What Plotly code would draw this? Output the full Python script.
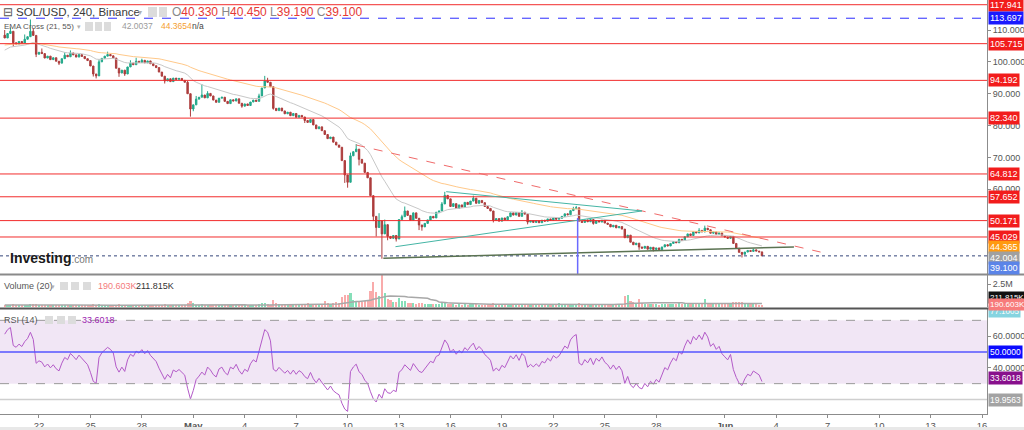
import pandas as pd
import plotly.graph_objects as go

# ---------------- data ----------------
START = "2022-04-20 00:00"          # first 4h candle
OPEN0 = 108.4
CLOSES = [
    107.5, 108.9, 109.6, 106.0, 105.6, 106.4, 105.9, 107.1, 107.9, 109.6,
    108.3, 102.4, 103.0, 102.6, 101.2, 101.8, 100.7, 101.3, 100.2, 99.6,
    101.0, 102.1, 101.6, 102.8, 102.2, 101.5, 102.3, 101.7, 101.0, 100.4,
    98.7, 96.2, 95.6, 100.0, 101.1, 101.8, 102.3, 101.9, 101.2, 98.0,
    96.5, 97.4, 96.2, 98.4, 99.6, 99.1, 100.2, 99.8, 100.5, 99.7,
    100.3, 99.4, 98.8, 98.2, 96.8, 95.5, 94.0, 94.7, 93.8, 94.9,
    94.5, 94.8, 94.2, 93.6, 90.0, 85.2, 86.5, 88.3, 88.9, 89.6,
    88.7, 90.1, 89.3, 88.0, 87.3, 88.6, 88.9, 87.6, 86.9, 88.1,
    87.7, 88.4, 87.0, 86.1, 86.8, 86.3, 87.4, 88.0, 87.6, 89.3,
    91.8, 94.0, 93.6, 92.2, 85.4, 84.7, 85.5, 84.6, 83.7, 84.2,
    83.1, 83.8, 82.6, 83.2, 82.7, 81.6, 81.0, 81.9, 80.2, 79.0,
    79.6, 78.4, 77.2, 75.9, 76.4, 74.8, 73.9, 73.2, 69.0, 64.5,
    62.2, 70.5, 71.8, 72.6, 69.4, 68.2, 65.3, 63.6, 58.0, 51.5,
    48.0, 50.2, 46.0, 48.9, 45.2, 44.6, 45.5, 44.4, 50.5, 51.4,
    53.2, 51.8, 50.3, 52.6, 50.9, 48.8, 48.2, 49.3, 50.4, 51.5,
    51.0, 52.8, 53.2, 55.4, 58.1, 57.0, 54.6, 55.5, 54.0, 55.1,
    54.4, 55.9, 55.2, 56.3, 57.2, 55.6, 56.5, 55.8, 54.6, 54.0,
    53.2, 50.2, 50.8, 50.0, 51.0, 50.4, 51.4, 52.6, 51.9, 52.7,
    51.5, 52.8, 52.2, 49.7, 50.2, 49.6, 50.1, 49.5, 50.3, 50.0,
    50.7, 50.2, 51.0, 50.6, 50.9, 51.5, 52.3, 52.0, 53.3, 53.9,
    54.2, 50.0, 49.6, 50.4, 49.8, 50.5, 49.3, 50.2, 49.7, 50.3,
    49.4, 49.0, 48.2, 48.7, 47.9, 48.3, 47.5, 44.8, 45.6, 43.4,
    42.6, 43.1, 41.9, 41.5, 42.1, 41.2, 41.8, 41.1, 41.6, 41.0,
    41.9, 42.6, 42.2, 43.0, 43.6, 43.2, 44.3, 44.0, 45.1, 46.0,
    45.5, 46.7, 46.3, 47.1, 46.6, 47.8, 47.3, 46.2, 46.6, 45.9,
    46.3, 45.4, 45.0, 44.6, 45.2, 43.0, 41.5, 40.2, 39.6, 40.3,
    40.8, 40.5, 41.0, 40.6, 40.33, 39.1,
]
HIGH_WICKS = {0: 110.0, 2: 110.8, 7: 108.6, 9: 113.3, 10: 110.5, 13: 104.2, 21: 103.0,
              23: 103.6, 33: 100.8, 36: 103.2, 44: 100.5, 46: 101.3, 48: 101.0, 64: 94.0,
              67: 89.3, 69: 93.0, 71: 90.8, 89: 90.0, 91: 95.6, 92: 95.0, 121: 71.5,
              123: 74.2, 131: 52.5, 133: 50.5, 139: 52.0, 140: 54.6, 153: 56.0, 154: 59.2,
              164: 58.0, 181: 53.5, 199: 54.5, 200: 54.8, 243: 47.8, 245: 48.6, 262: 41.4,
              265: 40.45}
LOW_WICKS = {3: 104.8, 11: 101.5, 19: 99.0, 31: 95.4, 32: 94.8, 40: 95.3, 42: 95.6,
             56: 93.2, 65: 82.8, 66: 84.5, 83: 85.6, 94: 85.0, 105: 80.8, 119: 62.0,
             120: 60.5, 124: 67.5, 129: 50.0, 130: 45.2, 132: 38.2, 134: 44.0, 137: 43.6,
             145: 47.2, 146: 47.0, 171: 49.6, 183: 49.0, 206: 48.9, 222: 41.0, 227: 40.5,
             258: 38.6}
VOLUMES_K = [
    180, 210, 160, 240, 150, 120, 140, 130, 170, 260,
    230, 330, 200, 150, 170, 140, 120, 110, 150, 160,
    130, 120, 110, 140, 100, 90, 120, 110, 130, 140,
    170, 240, 210, 250, 150, 130, 140, 110, 120, 220,
    250, 160, 190, 180, 140, 110, 120, 100, 130, 110,
    100, 120, 130, 140, 180, 210, 230, 160, 170, 140,
    120, 100, 110, 150, 340, 650, 380, 220, 200, 260,
    180, 170, 150, 160, 140, 130, 120, 140, 130, 110,
    100, 120, 110, 140, 130, 120, 150, 160, 170, 260,
    430, 380, 250, 210, 680, 360, 240, 200, 220, 190,
    170, 160, 180, 150, 170, 230, 350, 200, 280, 300,
    220, 330, 600, 380, 280, 420, 500, 420, 1100, 1300,
    1250, 1500, 700, 560, 480, 520, 600, 700, 1700, 2800,
    1600, 1200, 3600, 1500, 900, 700, 550, 500, 1000, 650,
    600, 420, 380, 350, 330, 420, 380, 300, 260, 280,
    250, 300, 280, 380, 450, 300, 330, 240, 220, 250,
    200, 230, 190, 250, 280, 240, 200, 180, 210, 230,
    240, 380, 250, 200, 180, 170, 190, 220, 180, 200,
    170, 190, 160, 300, 180, 150, 140, 160, 130, 150,
    140, 130, 160, 150, 370, 200, 220, 190, 260, 300,
    280, 370, 260, 220, 200, 190, 230, 300, 180, 170,
    200, 190, 240, 220, 180, 210, 250, 1130, 1350, 650,
    480, 350, 900, 420, 300, 280, 260, 300, 250, 220,
    240, 260, 230, 280, 250, 300, 550, 320, 350, 400,
    300, 340, 280, 360, 420, 800, 380, 300, 280, 260,
    240, 280, 300, 320, 260, 550, 500, 520, 560, 400,
    300, 280, 250, 240, 220, 190.603,
]
EMA_FAST, EMA_SLOW = 21, 55
EMA_SEEDS = (103.3, 105.2)
RSI_LEN = 14
RSI_SEED = (0.9, 0.5)
VOL_MA_LEN = 20

RED_LEVELS = [117.941, 105.715, 94.192, 82.340, 64.812, 57.652, 50.171, 45.029]
BLUE_LEVEL = 113.697
LAST_PRICE = 39.100
RSI_LINE_LOW = 19.9563
# trendlines: (t0, p0, t1, p1)
RED_TREND = ("2022-05-10 12:00", 73.9, "2022-06-06 14:00", 40.3)
TEAL_UPPER = ("2022-05-15 18:00", 59.25, "2022-05-27 04:00", 53.2)
TEAL_LOWER = ("2022-05-12 19:00", 41.98, "2022-05-27 04:00", 53.2)
GREEN_SUPPORT = ("2022-05-12 02:00", 38.34, "2022-06-05 00:45", 41.89)
BLUE_VLINE = ("2022-05-23 10:00", 51.0)

X_RANGE = ["2022-04-19 17:25", "2022-06-16 07:00"]
TICK_DATES = ["2022-04-22", "2022-04-25", "2022-04-28", "2022-05-01", "2022-05-04",
              "2022-05-07", "2022-05-10", "2022-05-13", "2022-05-16", "2022-05-19",
              "2022-05-22", "2022-05-25", "2022-05-28", "2022-06-01", "2022-06-04",
              "2022-06-07", "2022-06-10", "2022-06-13", "2022-06-16"]
TICK_TEXT = ["22", "25", "28", "<b>May</b>", "4", "7", "10", "13", "16", "19",
             "22", "25", "28", "<b>Jun</b>", "4", "7", "10", "13", "16"]

# ---------------- derived series ----------------
times = pd.date_range(START, periods=len(CLOSES), freq="4h")
opens = [OPEN0] + CLOSES[:-1]
highs = [max(HIGH_WICKS.get(i, 0), o, c) for i, (o, c) in enumerate(zip(opens, CLOSES))]
lows = [min(LOW_WICKS.get(i, 1e9), o, c) for i, (o, c) in enumerate(zip(opens, CLOSES))]


def ema(vals, n, seed):
    a = 2.0 / (n + 1)
    e, out = seed, []
    for v in vals:
        e = e + a * (v - e)
        out.append(e)
    return out


ema_f = ema(CLOSES, EMA_FAST, EMA_SEEDS[0])
ema_s = ema(CLOSES, EMA_SLOW, EMA_SEEDS[1])

g, l = RSI_SEED
prev = OPEN0
rsi = []
for c in CLOSES:
    ch = c - prev
    g = (g * (RSI_LEN - 1) + max(ch, 0)) / RSI_LEN
    l = (l * (RSI_LEN - 1) + max(-ch, 0)) / RSI_LEN
    rsi.append(100 - 100 / (1 + g / l))
    prev = c

vols = [v * 1000 for v in VOLUMES_K]
vol_ma = pd.Series(vols).rolling(VOL_MA_LEN, min_periods=1).mean().tolist()
vol_cols = ["#86dfb9" if c >= o else "#f9abab" for o, c in zip(opens, CLOSES)]

# ---------------- layout geometry (pixels) ----------------
W, H = 1024, 430
XR = 987 / W


def py(y):
    return 1 - y / H


def pxx(x):
    return x / W


MAIN = [py(274), 1.0]
VOL = [py(307), py(275)]
RSI_D = [py(414), py(309)]

FONT = "Liberation Sans, Arial, sans-serif"

fig = go.Figure()
fig.add_trace(go.Candlestick(
    x=times, open=opens, high=highs, low=lows, close=CLOSES, xaxis="x", yaxis="y",
    increasing=dict(line=dict(color="#22a88a", width=1), fillcolor="#22a88a"),
    decreasing=dict(line=dict(color="#ad3d3d", width=1), fillcolor="#ad3d3d"),
    whiskerwidth=0, hoverinfo="skip"))
fig.add_trace(go.Scatter(x=times, y=ema_f, mode="lines", line=dict(color="#c8c8c8", width=1),
                         xaxis="x", yaxis="y", hoverinfo="skip"))
fig.add_trace(go.Scatter(x=times, y=ema_s, mode="lines", line=dict(color="#ffc98a", width=1),
                         xaxis="x", yaxis="y", hoverinfo="skip"))
fig.add_trace(go.Bar(x=times, y=vols, marker=dict(color=vol_cols, line=dict(width=0)),
                     width=4 * 3600 * 1000 * 0.75, xaxis="x", yaxis="y2", hoverinfo="skip"))
fig.add_trace(go.Scatter(x=times, y=vol_ma, mode="lines", line=dict(color="#a8a8a8", width=1.5),
                         xaxis="x", yaxis="y2", hoverinfo="skip"))
fig.add_trace(go.Scatter(x=times, y=rsi, mode="lines", line=dict(color="#b35ac8", width=1),
                         xaxis="x", yaxis="y3", hoverinfo="skip"))

shapes = []
# RSI band & levels
shapes.append(dict(type="rect", xref="paper", yref="y3", x0=0, x1=XR, y0=30, y1=70,
                   fillcolor="rgba(150,60,175,0.13)", line=dict(width=0), layer="below"))
for lv in (70, 30):
    shapes.append(dict(type="line", xref="paper", yref="y3", x0=0, x1=XR, y0=lv, y1=lv,
                       line=dict(color="#999999", width=1, dash="dash")))
shapes.append(dict(type="line", xref="paper", yref="y3", x0=0, x1=XR, y0=50, y1=50,
                   line=dict(color="#5555ff", width=1.5)))
shapes.append(dict(type="line", xref="paper", yref="y3", x0=0, x1=XR, y0=RSI_LINE_LOW,
                   y1=RSI_LINE_LOW, line=dict(color="#cfcfcf", width=1.5)))
# horizontal levels
for lv in RED_LEVELS:
    shapes.append(dict(type="line", xref="paper", yref="y", x0=0, x1=XR, y0=lv, y1=lv,
                       line=dict(color="#f22c2c", width=1)))
shapes.append(dict(type="line", xref="paper", yref="y", x0=0, x1=XR, y0=BLUE_LEVEL,
                   y1=BLUE_LEVEL, line=dict(color="#2b2bff", width=1, dash="dash")))
shapes.append(dict(type="line", xref="paper", yref="y", x0=0, x1=XR, y0=LAST_PRICE,
                   y1=LAST_PRICE, line=dict(color="#35467a", width=1, dash="dot")))
# drawings
for (t0, p0, t1, p1), col, dash, wd in [
        (RED_TREND, "#f06a6a", "dash", 1),
        (TEAL_UPPER, "#45b5a5", "solid", 1),
        (TEAL_LOWER, "#45b5a5", "solid", 1),
        (GREEN_SUPPORT, "#5b7352", "solid", 1.5)]:
    shapes.append(dict(type="line", xref="x", yref="y", x0=t0, y0=p0, x1=t1, y1=p1,
                       line=dict(color=col, width=wd, dash=dash)))
shapes.append(dict(type="line", xref="x", yref="paper", x0=BLUE_VLINE[0], x1=BLUE_VLINE[0],
                   y0=py(274), y1=py(274 - (BLUE_VLINE[1] - 33.41) * 3.186),
                   line=dict(color="#6a6aff", width=1.5)))
# pane separators
shapes.append(dict(type="line", xref="paper", yref="paper", x0=0, x1=1, y0=py(274.5), y1=py(274.5),
                   line=dict(color="#8a8a8a", width=2)))
shapes.append(dict(type="line", xref="paper", yref="paper", x0=0, x1=1, y0=py(308.5), y1=py(308.5),
                   line=dict(color="#555555", width=2)))
shapes.append(dict(type="rect", xref="paper", yref="paper", x0=0, x1=1, y0=0, y1=py(427),
                   fillcolor="#e8e8e8", line=dict(width=0)))
# little legend icon boxes
for (x0, x1, y0, y1) in [(148, 157, 7, 17), (159, 167, 7, 17),
                         (85, 93, 22, 31), (95, 102, 22, 31), (104, 111, 22, 31),
                         (60, 68, 282, 290), (71, 79, 282, 290), (83, 91, 282, 290),
                         (45, 53, 316, 324), (57, 65, 316, 324), (68, 76, 316, 324)]:
    shapes.append(dict(type="rect", xref="paper", yref="paper", x0=pxx(x0), x1=pxx(x1),
                       y0=py(y1), y1=py(y0), fillcolor="#dcdcdc", line=dict(width=0)))

ann = []


def txt(x, y, text, size=10, color="#555555", anchor="left"):
    ann.append(dict(x=pxx(x), y=py(y), xref="paper", yref="paper", text=text, showarrow=False,
                    xanchor=anchor, yanchor="middle", borderpad=0,
                    font=dict(family=FONT, size=size, color=color)))


def lab(y, text, bg, yref="y", fg="white", size=9):
    yy = y if yref != "paper" else py(y)
    ann.append(dict(x=pxx(988), y=yy, xref="paper", yref=yref, text=text, showarrow=False,
                    xanchor="left", yanchor="middle", bgcolor=bg, borderpad=1,
                    font=dict(family=FONT, size=size, color=fg)))


txt(2, 12, "⊟", 12, "#555555")
txt(15, 12, "SOL/USD, 240, Binance", 11.5, "#3a3a3a")
txt(137, 12, "▾", 8, "#b0b0b0")
txt(171, 12, '<span style="color:#888">O</span><span style="color:#e53935">40.330</span> '
             '<span style="color:#888">H</span><span style="color:#e53935">40.450</span> '
             '<span style="color:#888">L</span><span style="color:#e53935">39.190</span> '
             '<span style="color:#888">C</span><span style="color:#e53935">39.100</span>', 12)
txt(3, 26, "EMA Cross (21, 55)", 8, "#555555")
txt(76, 26, "▾", 7, "#b0b0b0")
txt(121, 26, "42.0037", 8.5, "#9a9a9a")
txt(160, 26, "44.3654", 8.5, "#f5a030")
txt(191, 26, "n/a", 8.5, "#444444")
txt(9, 258, '<b>Investing</b><span style="font-size:10px;color:#777">.com</span>', 14, "#1a1a1a")
txt(3, 286, "Volume (20)", 9, "#555555")
txt(50, 286, "▾", 7, "#b0b0b0")
txt(97, 286, "190.603K", 9, "#f47c7c")
txt(135, 286, "211.815K", 9, "#333333")
txt(3, 320, "RSI (14)", 9, "#555555")
txt(81, 320, "33.6018", 9, "#9c27b0")

for lv in RED_LEVELS:
    lab(lv, f"{lv:.3f}", "#f21c1c")
lab(BLUE_LEVEL, f"{BLUE_LEVEL:.3f}", "#1a1aff")
lab(247.3, "44.365", "#ff9a10", "paper")
lab(258, "42.004", "#a0a0a0", "paper")
lab(268.3, "39.100", "#5b84e8", "paper")
lab(311.5, "77.1005", "#86d4e0", "paper", size=8)
lab(297.5, "211.815K", "#111111", "paper", size=8)
lab(304, "190.603K", "#f77b7b", "paper", size=8)
lab(50, "50.0000", "#0b0bff", "y3", size=8.5)
lab(33.6018, "33.6018", "#88108c", "y3", size=8.5)
lab(RSI_LINE_LOW, "19.9563", "#a3a3a3", "y3", size=8.5)

axis_common = dict(showgrid=False, zeroline=False, showline=True, linecolor="#8c8c8c",
                   linewidth=1, ticks="outside", ticklen=3, tickcolor="#8c8c8c",
                   tickfont=dict(family=FONT, size=9, color="#555555"), side="right",
                   anchor="x", fixedrange=True)

fig.update_layout(
    width=W, height=H, margin=dict(l=0, r=0, t=0, b=0), paper_bgcolor="white",
    plot_bgcolor="white", showlegend=False, hovermode=False, bargap=0,
    xaxis=dict(domain=[0, XR], range=X_RANGE, type="date", anchor="y3", showgrid=False,
               zeroline=False, showline=True, linecolor="#8c8c8c", ticks="outside", ticklen=3,
               tickcolor="#8c8c8c", tickvals=TICK_DATES, ticktext=TICK_TEXT,
               tickfont=dict(family=FONT, size=9.5, color="#555555"),
               rangeslider=dict(visible=False), fixedrange=True),
    yaxis=dict(domain=MAIN, range=[33.41, 119.42], tickvals=[60, 70, 80, 90, 100, 110],
               tickformat=".3f", **axis_common),
    yaxis2=dict(domain=VOL, range=[-56000, 3547000], tickvals=[2.5e6], ticktext=["2.5M"],
                **axis_common),
    yaxis3=dict(domain=RSI_D, range=[10.83, 77.16], tickvals=[40, 60], tickformat=".4f",
                **axis_common),
    shapes=shapes, annotations=ann,
)

fig.write_html("out.html")
